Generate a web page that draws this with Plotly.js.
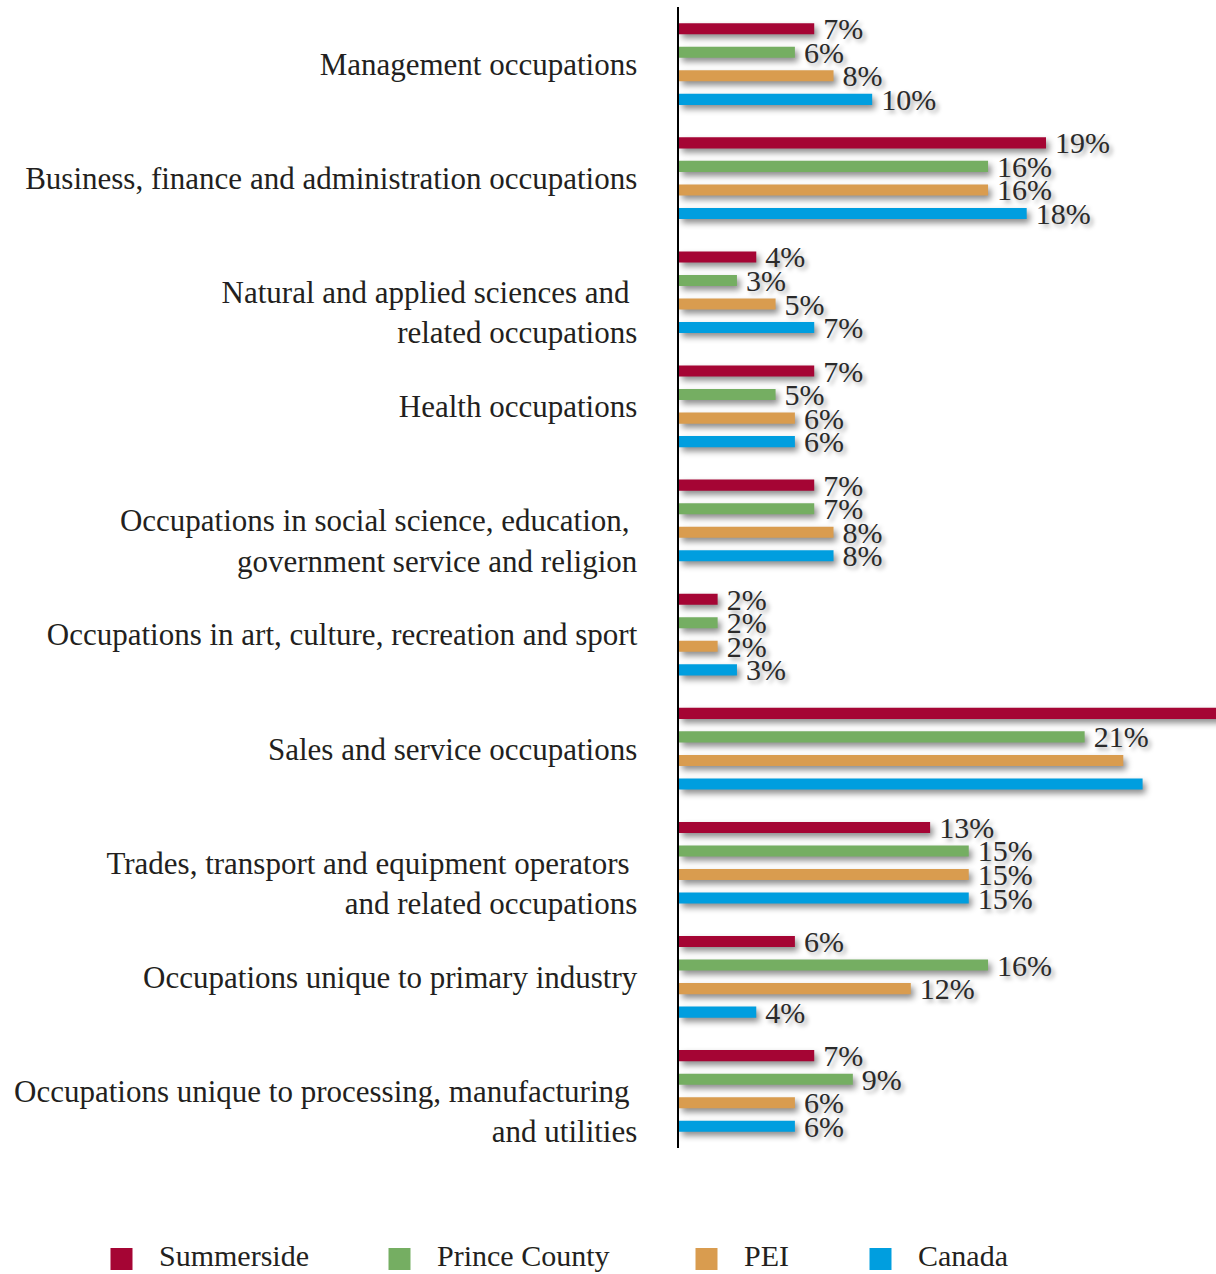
<!DOCTYPE html>
<html>
<head>
<meta charset="utf-8">
<script src="https://cdn.plot.ly/plotly-3.0.1.min.js"></script>
<style>html,body{margin:0;padding:0;background:#fff;}#chart{width:1216px;height:1274px;}</style>
</head>
<body>
<div id="chart"></div>
<script>
const categories = [
  "Management occupations",
  "Business, finance and administration occupations",
  "\u00a0<br>Natural and applied sciences and\u00a0<br>related occupations",
  "Health occupations",
  "\u00a0<br>Occupations in social science, education,\u00a0<br>government service and religion",
  "Occupations in art, culture, recreation and sport",
  "Sales and service occupations",
  "\u00a0<br>Trades, transport and equipment operators\u00a0<br>and related occupations",
  "Occupations unique to primary industry",
  "\u00a0<br>Occupations unique to processing, manufacturing\u00a0<br>and utilities"
];
const seriesNames = ["Summerside", "Prince County", "PEI", "Canada"];
const summerside   = [7, 19, 4, 7, 7, 2, 29, 13, 6, 7];
const princeCounty = [6, 16, 3, 5, 7, 2, 21, 15, 16, 9];
const pei          = [8, 16, 5, 6, 8, 2, 23, 15, 12, 6];
const canada       = [10, 18, 7, 6, 8, 3, 24, 15, 4, 6];
// value labels not shown in the reference (cut off at the right edge)
const hiddenLabels = [[6], [], [6], [6]];
const colors = ["#A50534", "#75AE62", "#D99C4F", "#009EDF"];
const legendIds = ["legend", "legend2", "legend3", "legend4"];
const legendX = [84, 362, 669, 843];

const allSeries = [summerside, princeCounty, pei, canada];
const FONT = "Liberation Serif, Times New Roman, serif";
const TXT = "#231f20";

const traces = allSeries.map((vals, i) => ({
  type: "bar",
  orientation: "h",
  name: seriesNames[i],
  x: vals,
  y: categories,
  text: vals.map((v, j) => hiddenLabels[i].includes(j) ? "" : "\u2009" + v + "%"),
  textposition: "outside",
  constraintext: "none",
  cliponaxis: true,
  textfont: {family: FONT, size: 30, color: "#2a2a2a", shadow: "3px 3px 4px rgba(0,0,0,0.35)"},
  marker: {color: colors[i]},
  legend: legendIds[i],
  hoverinfo: "x+name"
}));

const W = 1216, H = 1274, ML = 679, MT = 7, MB = 126;
const plotW = W - ML, plotH = H - MT - MB;
const layout = {
  width: W, height: H,
  margin: {l: ML, r: 0, t: MT, b: MB, pad: 0, autoexpand: false},
  paper_bgcolor: "#fff", plot_bgcolor: "#fff",
  barmode: "group",
  bargap: 0.175,
  bargroupgap: 0.53,
  font: {family: FONT, color: TXT},
  xaxis: {range: [0, 27.8], visible: false, fixedrange: true},
  yaxis: {
    type: "category",
    autorange: "reversed",
    showline: true, linecolor: "#000", linewidth: 2.5,
    showgrid: false, zeroline: false,
    ticks: "outside", ticklen: 33, tickcolor: "rgba(0,0,0,0)",
    tickfont: {family: FONT, size: 31, color: TXT},
    fixedrange: true
  },
  showlegend: true
};
legendIds.forEach((id, i) => {
  layout[id] = {
    orientation: "h",
    x: (legendX[i] - ML) / plotW,
    xanchor: "left",
    y: (MT + plotH - 1254) / plotH, yanchor: "middle",
    itemwidth: 65,
    font: {family: FONT, size: 30, color: TXT},
    bgcolor: "rgba(0,0,0,0)"
  };
});

Plotly.newPlot("chart", traces, layout, {displayModeBar: false, staticPlot: true}).then(() => {
  document.querySelectorAll(".barlayer .point path").forEach(p => {
    p.style.filter = "drop-shadow(3px 4px 3px rgba(0,0,0,0.45))";
  });
  document.querySelectorAll(".legendpoints path").forEach(p => {
    p.setAttribute("d", "M11,16H-11V-6H11Z");
  });
});
</script>
</body>
</html>
